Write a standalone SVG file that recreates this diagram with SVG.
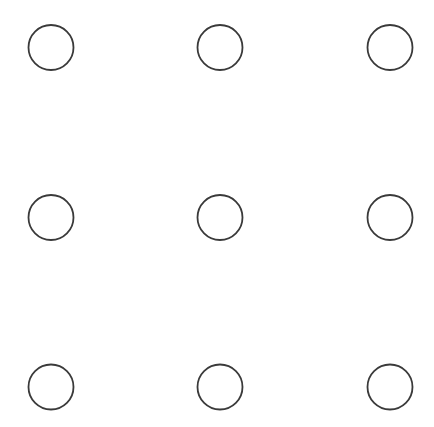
<svg xmlns="http://www.w3.org/2000/svg" width="434" height="427" viewBox="0 0 434 427">
<style>
.dot{fill:#ffffff;stroke:#3a3a3a;stroke-width:1.8}
</style>
<rect width="434" height="427" fill="#ffffff"/>
<g id="connectors"></g>
<g id="n11"><circle class="dot" cx="51" cy="47.5" r="22.5"/></g>
<g id="n12"><circle class="dot" cx="220" cy="47.5" r="22.5"/></g>
<g id="n13"><circle class="dot" cx="390" cy="47.5" r="22.5"/></g>
<g id="n21"><circle class="dot" cx="51" cy="217.5" r="22.5"/></g>
<g id="n22"><circle class="dot" cx="220" cy="217.5" r="22.5"/></g>
<g id="n23"><circle class="dot" cx="390" cy="217.5" r="22.5"/></g>
<g id="n31"><circle class="dot" cx="51" cy="387" r="22.5"/></g>
<g id="n32"><circle class="dot" cx="220" cy="387" r="22.5"/></g>
<g id="n33"><circle class="dot" cx="390" cy="387" r="22.5"/></g>
</svg>
